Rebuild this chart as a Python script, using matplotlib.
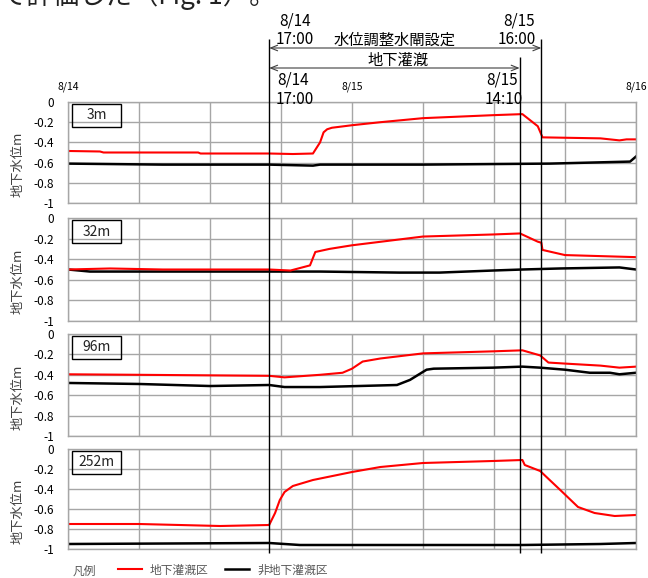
"""
Groundwater level (地下水位) at 3m / 32m / 96m / 252m, sub-irrigated vs non-irrigated plot,
8/14 0:00 - 8/16 0:00, with the gate-setting and irrigation periods marked on top.
"""
import numpy as np
import matplotlib.pyplot as plt
from matplotlib.patches import Rectangle

plt.rcParams['font.family'] = ['Noto Sans CJK JP', 'DejaVu Sans']

# ----------------------- data: hours from 8/14 0:00, level (m) -----------------------
PANEL_NAMES = ["3m", "32m", "96m", "252m"]

red_3_h = [0, 2.7, 3.0, 11.0, 11.2, 17.0, 19.0, 20.7, 21.3, 21.6, 21.9, 22.3, 24.0, 26.4, 30.0,
           34.0, 36.0, 38.4, 39.7, 40.1, 45.0, 46.6, 47.2, 48.0]
red_3_v = [-0.485, -0.49, -0.50, -0.50, -0.51, -0.51, -0.515, -0.51, -0.40, -0.30, -0.27, -0.255,
           -0.23, -0.20, -0.16, -0.14, -0.13, -0.12, -0.24, -0.35, -0.36, -0.38, -0.37, -0.37]
blk_3_h = [0, 8.0, 17.0, 20.7, 21.3, 30.0, 40.7, 47.5, 48.0]
blk_3_v = [-0.61, -0.62, -0.62, -0.63, -0.62, -0.62, -0.61, -0.59, -0.54]

red_32_h = [0, 3.55, 8.0, 17.0, 18.8, 20.45, 20.9, 21.3, 22.1, 24.0, 30.0, 35.9, 38.2, 39.7,
            40.0, 40.1, 42.0, 45.0, 48.0]
red_32_v = [-0.50, -0.49, -0.50, -0.50, -0.51, -0.46, -0.33, -0.32, -0.30, -0.265, -0.18, -0.16,
            -0.15, -0.23, -0.24, -0.31, -0.36, -0.37, -0.38]
blk_32_h = [0, 1.86, 17.0, 21.3, 28.0, 31.4, 35.9, 38.4, 41.6, 46.6, 48.0]
blk_32_v = [-0.50, -0.52, -0.52, -0.52, -0.53, -0.53, -0.51, -0.50, -0.49, -0.48, -0.50]

red_96_h = [0, 6.0, 17.0, 18.3, 21.3, 23.2, 24.0, 24.9, 26.4, 30.0, 35.9, 38.4, 39.9, 40.6,
            42.0, 45.0, 46.6, 48.0]
red_96_v = [-0.395, -0.40, -0.41, -0.425, -0.40, -0.38, -0.34, -0.27, -0.24, -0.19, -0.17, -0.16,
            -0.21, -0.28, -0.29, -0.31, -0.33, -0.32]
blk_96_h = [0, 6.0, 12.0, 17.0, 18.3, 21.3, 27.8, 28.9, 30.3, 30.9, 35.9, 38.4, 39.9, 42.0,
            44.1, 45.8, 46.6, 48.0]
blk_96_v = [-0.48, -0.49, -0.51, -0.50, -0.52, -0.52, -0.50, -0.45, -0.35, -0.34, -0.33, -0.32,
            -0.33, -0.35, -0.38, -0.38, -0.395, -0.38]

red_252_h = [0, 6.0, 12.85, 17.0, 17.5, 17.9, 18.3, 19.0, 20.7, 24.0, 26.4, 30.0, 35.9, 38.4,
             38.6, 39.9, 41.6, 43.1, 44.5, 46.2, 48.0]
red_252_v = [-0.75, -0.75, -0.77, -0.76, -0.64, -0.51, -0.43, -0.37, -0.31, -0.23, -0.18, -0.14,
             -0.12, -0.11, -0.16, -0.22, -0.41, -0.58, -0.64, -0.67, -0.66]
blk_252_h = [0, 17.0, 19.6, 28.0, 38.4, 45.0, 48.0]
blk_252_v = [-0.95, -0.94, -0.96, -0.96, -0.96, -0.95, -0.94]

RED = [(red_3_h, red_3_v), (red_32_h, red_32_v), (red_96_h, red_96_v), (red_252_h, red_252_v)]
BLK = [(blk_3_h, blk_3_v), (blk_32_h, blk_32_v), (blk_96_h, blk_96_v), (blk_252_h, blk_252_v)]

Y_TICKS = [-1, -0.8, -0.6, -0.4, -0.2, 0]
Y_TICKLABELS = ["-1", "-0.8", "-0.6", "-0.4", "-0.2", "0"]
DATE_TICKS = [0, 24, 48]
DATE_LABELS = ["8/14", "8/15", "8/16"]
T_START, T_STOP_IRR, T_STOP_GATE = 17.0, 38 + 10 / 60, 40.0   # 8/14 17:00, 8/15 14:10, 8/15 16:00

# ----------------------------- layout (pixels) -----------------------------
W, H = 648, 578
X0, X1 = 68, 636
PANEL_Y = [(102, 203), (218, 321), (334, 436), (449, 549)]
GRID = "#a6a6a6"

fig = plt.figure(figsize=(W / 100, H / 100), dpi=100)

axes = []
for i, (top, bot) in enumerate(PANEL_Y):
    ax = fig.add_axes([X0 / W, 1 - bot / H, (X1 - X0) / W, (bot - top) / H])
    ax.plot(*BLK[i], color="black", lw=1.8, solid_joinstyle="round")
    ax.plot(*RED[i], color="#ff0000", lw=1.5, solid_joinstyle="round")
    ax.set_xlim(0, 48)
    ax.set_ylim(-1, 0)
    ax.set_xticks(np.arange(0, 49, 6))
    ax.set_xticklabels([])
    ax.set_yticks(Y_TICKS)
    ax.set_yticklabels(Y_TICKLABELS, fontsize=8.5)
    ax.tick_params(length=0, pad=10)
    ax.grid(color=GRID, lw=1.0)
    ax.set_axisbelow(True)
    for s in ax.spines.values():
        s.set_color(GRID)
        s.set_linewidth(1.0)
    ax.add_patch(Rectangle((0.007, 0.755), 0.086, 0.225, transform=ax.transAxes,
                           fill=False, ec="black", lw=1.0, zorder=5))
    ax.text(0.05, 0.868, PANEL_NAMES[i], transform=ax.transAxes, ha="center", va="center",
            fontsize=10, color="#222222", zorder=6)
    fig.text(18 / W, 1 - ((top + bot) / 2 + 12) / H, "地下水位m", rotation=90,
             ha="center", va="center", fontsize=9.5, color="#404040")
    axes.append(ax)

# overlay: x in hours (same scale as panels), y in pixels from the top
ov = fig.add_axes([0, 0, 1, 1], facecolor="none")
ov.set_xlim(-X0 * 48 / (X1 - X0), (W - X0) * 48 / (X1 - X0))
ov.set_ylim(H, 0)
ov.axis("off")

ov.vlines([T_START, T_STOP_GATE], 39, 553, color="black", lw=1.0)
ov.vlines([T_STOP_IRR], 57, 553, color="black", lw=1.0)

arrow = dict(arrowstyle="<->,head_length=0.5,head_width=0.2", lw=0.8, color="#404040",
             shrinkA=0, shrinkB=0)
ov.annotate("", xy=(T_STOP_GATE, 48), xytext=(T_START, 48), arrowprops=arrow)
ov.annotate("", xy=(T_STOP_IRR, 68), xytext=(T_START, 68), arrowprops=arrow)

ov.text(27.6, 40, "水位調整水閘設定", ha="center", va="center", fontsize=11)
ov.text(27.9, 60, "地下灌漑", ha="center", va="center", fontsize=11)
ov.text(19.2, 21, "8/14", ha="center", va="center", fontsize=11)
ov.text(19.2, 40, "17:00", ha="center", va="center", fontsize=11)
ov.text(38.1, 21, "8/15", ha="center", va="center", fontsize=11)
ov.text(37.9, 40, "16:00", ha="center", va="center", fontsize=11)
ov.text(19.0, 80, "8/14", ha="center", va="center", fontsize=11)
ov.text(19.2, 100, "17:00", ha="center", va="center", fontsize=11)
ov.text(36.7, 80, "8/15", ha="center", va="center", fontsize=11)
ov.text(36.8, 100, "14:10", ha="center", va="center", fontsize=11)
for t, lab in zip(DATE_TICKS, DATE_LABELS):
    ov.text(t, 87, lab, ha="center", va="center", fontsize=7.5)

# clipped line of page text above the figure
ov.text(-5.75, 10, "て評価した（Fig. 1）。", ha="left", va="bottom", fontsize=19, color="#222222")

# legend
ov.text(0.4, 571, "凡例", ha="left", va="center", fontsize=8.5, color="#595959")
fig.legend(axes[-1].lines[::-1], ["地下灌漑区", "非地下灌漑区"], loc="center left",
           bbox_to_anchor=(118 / W, 1 - 570 / H), ncol=2, frameon=False, fontsize=8.5,
           labelcolor="#595959", handlelength=2.0, handletextpad=0.7, columnspacing=1.4,
           borderpad=0, borderaxespad=0)

fig.savefig("out.png", dpi=100)
